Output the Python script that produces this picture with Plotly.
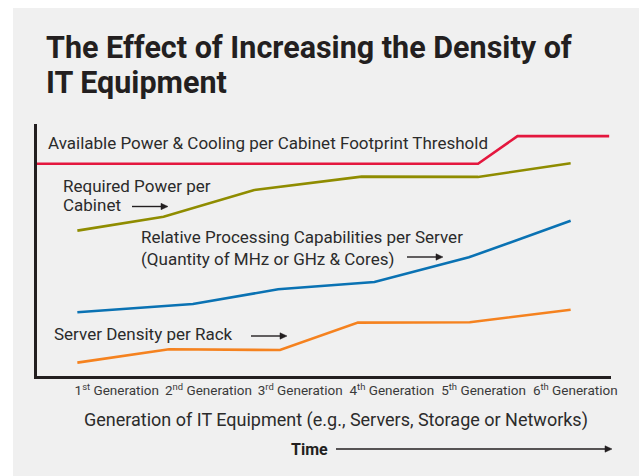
import plotly.graph_objects as go

# ---- data (x in generation units, y in relative units 0-100) ----
generations = [1, 2, 3, 4, 5, 6]
gen_labels = ["1<sup>st</sup> Generation", "2<sup>nd</sup> Generation", "3<sup>rd</sup> Generation",
              "4<sup>th</sup> Generation", "5<sup>th</sup> Generation", "6<sup>th</sup> Generation"]

threshold_x = [0.13, 4.94, 5.37, 6.37]
threshold_y = [84.2, 84.2, 95.2, 95.2]

power_x = [0.57, 1.51, 2.50, 3.67, 4.94, 5.95]
power_y = [57.7, 63.2, 73.8, 79.1, 79.0, 84.4]

processing_x = [0.57, 1.83, 2.76, 3.81, 4.84, 5.95]
processing_y = [25.3, 28.6, 34.4, 37.3, 47.1, 61.6]

density_x = [0.57, 1.57, 2.78, 3.63, 4.85, 5.95]
density_y = [5.3, 10.6, 10.3, 21.2, 21.3, 26.3]

# ---- layout geometry ----
W, H = 639, 476
L, R, T, B = 37, 611, 124, 376
def px(x):
    return (x - L) / (R - L)
def py(y):
    return (B - y) / (B - T)

TEXT = "#2b2b2b"
BODY_FONT = "Roboto"
DARK = "#231f20"

fig = go.Figure()
for xs, ys, col in [(threshold_x, threshold_y, "#e4173e"),
                    (power_x, power_y, "#8f8c00"),
                    (processing_x, processing_y, "#0a72b3"),
                    (density_x, density_y, "#f5821f")]:
    fig.add_trace(go.Scatter(x=xs, y=ys, mode="lines",
                             line=dict(color=col, width=2.6),
                             hoverinfo="skip", showlegend=False))

annotations = []
shapes = [dict(type="rect", xref="paper", yref="paper", layer="below",
               x0=px(13), x1=px(W + 5), y0=py(H + 5), y1=py(8),
               fillcolor="#f0f0f0", line=dict(width=0))]

def txt(text, x, y, size=17, family=BODY_FONT, anchor="left", color=TEXT):
    annotations.append(dict(text=text, x=px(x), y=py(y), xref="paper", yref="paper",
                            xanchor=anchor, yanchor="middle", showarrow=False,
                            font=dict(family=family, size=size, color=color)))

def arrow(x0, x1, y):
    shapes.append(dict(type="line", xref="paper", yref="paper",
                       x0=px(x0), x1=px(x1 - 4), y0=py(y), y1=py(y),
                       line=dict(color=DARK, width=1.4)))
    path = "M {a},{b} L {c},{d} L {e},{f} Z".format(
        a=px(x1), b=py(y), c=px(x1 - 7), d=py(y - 3.2), e=px(x1 - 7), f=py(y + 3.2))
    shapes.append(dict(type="path", xref="paper", yref="paper", path=path,
                       fillcolor=DARK, line=dict(color=DARK, width=0.5)))

# title
txt("<b>The Effect of Increasing the Density of</b>", 44, 47, size=30.5, color=DARK)
txt("<b>IT Equipment</b>", 44, 83, size=30.5, color=DARK)

txt("Available Power &amp; Cooling per Cabinet Footprint Threshold", 46, 143)
txt("Required Power per", 61, 186)
txt("Cabinet", 61, 205)
arrow(132, 168, 206.5)
txt("Relative Processing Capabilities per Server", 139, 237)
txt("(Quantity of MHz or GHz &amp; Cores)", 139, 259)
arrow(407, 443, 257)
txt("Server Density per Rack", 52, 334)
arrow(251, 287, 336)

txt("Generation of IT Equipment (e.g., Servers, Storage or Networks)", 336, 420, size=18, anchor="center")
txt("<b>Time</b>", 309, 449, size=16, anchor="center", color=DARK)
arrow(336, 612, 449)

fig.update_layout(
    width=W, height=H,
    margin=dict(l=L, r=W - R, t=T, b=H - B, pad=0),
    paper_bgcolor="white", plot_bgcolor="#f0f0f0",
    shapes=shapes,
    annotations=annotations,
    xaxis=dict(range=[0.13, 6.39], tickvals=generations, ticktext=gen_labels,
               showgrid=False, zeroline=False, showline=True, linewidth=3,
               linecolor=DARK, ticks="", fixedrange=True,
               tickfont=dict(family=BODY_FONT, size=13.5, color="#3a3a3a")),
    yaxis=dict(range=[0, 100], showgrid=False, zeroline=False, showline=True,
               linewidth=3, linecolor=DARK, showticklabels=False, ticks="",
               fixedrange=True),
    showlegend=False,
)

fig.write_html("out.html", config={"displayModeBar": False},
               post_script="document.body.style.margin='0';")
